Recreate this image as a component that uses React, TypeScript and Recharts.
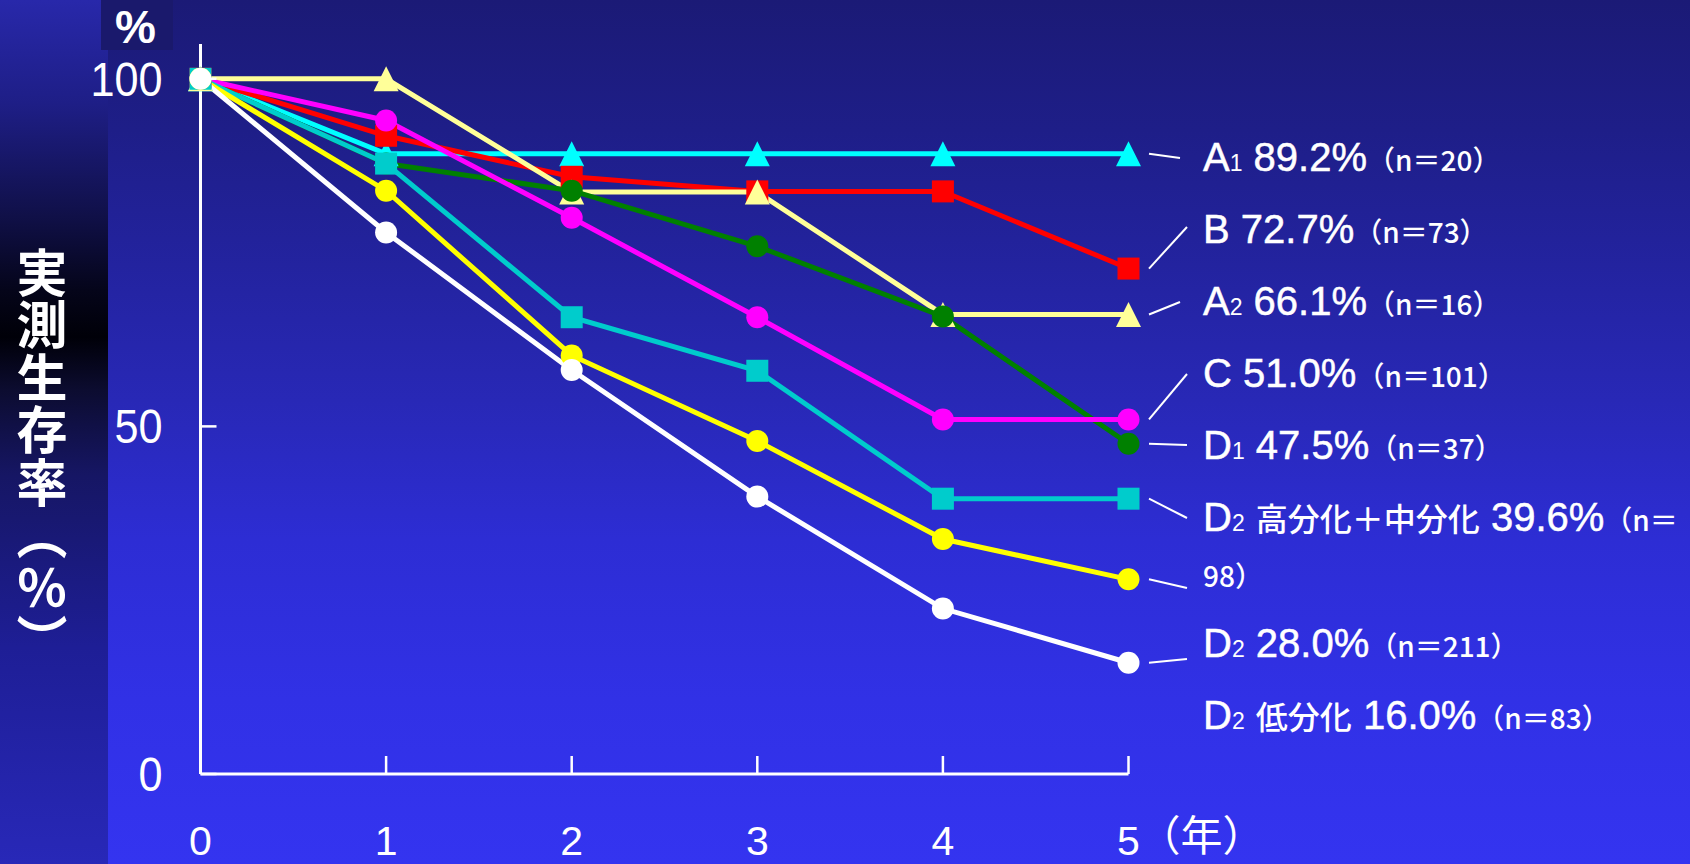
import React from 'react';
import { LineChart, Line, XAxis, YAxis, ReferenceLine } from 'recharts';

// Years after surgery
const YEARS = [0, 1, 2, 3, 4, 5];

// Observed survival (%) per group, years 0–5
const SURV_A1 = [100, 89.2, 89.2, 89.2, 89.2, 89.2];
const SURV_B = [100, 91.8, 85.9, 83.8, 83.8, 72.7];
const SURV_A2 = [100, 100, 83.7, 83.7, 66.1, 66.1];
const SURV_C = [100, 94.0, 80.0, 65.7, 51.0, 51.0];
const SURV_D1 = [100, 87.8, 83.9, 75.9, 65.8, 47.5];
const SURV_D2_WELL_MOD = [100, 87.8, 65.7, 58.0, 39.6, 39.6];
const SURV_D2 = [100, 83.9, 60.2, 47.9, 33.8, 28.0];
const SURV_D2_POOR = [100, 77.9, 58.1, 39.9, 23.8, 16.0];

const Y_TICKS = [0, 50, 100];

// Group label parts
const GROUP_NAMES = ['A', 'B', 'A', 'C', 'D', 'D', 'D', 'D'];
const GROUP_SUBS = ['1', '', '2', '', '1', '2', '2', '2'];
const GROUP_NOTES = ['', '', '', '', '', '高分化＋中分化', '', '低分化'];
const GROUP_N = [20, 73, 16, 101, 37, 98, 211, 83];

type Shape = 'circle' | 'square' | 'triangle';
const SERIES: { key: string; values: number[]; color: string; shape: Shape }[] = [
  { key: 'a1', values: SURV_A1, color: '#00ffff', shape: 'triangle' },
  { key: 'b', values: SURV_B, color: '#ff0000', shape: 'square' },
  { key: 'a2', values: SURV_A2, color: '#ffff99', shape: 'triangle' },
  { key: 'c', values: SURV_C, color: '#ff00ff', shape: 'circle' },
  { key: 'd1', values: SURV_D1, color: '#008000', shape: 'circle' },
  { key: 'd2wm', values: SURV_D2_WELL_MOD, color: '#00cccc', shape: 'square' },
  { key: 'd2', values: SURV_D2, color: '#ffff00', shape: 'circle' },
  { key: 'd2p', values: SURV_D2_POOR, color: '#ffffff', shape: 'circle' },
];
// stacking order of the curves (bottom to top)
const DRAW_ORDER = [0, 1, 2, 4, 3, 5, 6, 7];

const chartData = YEARS.map((year, i) => {
  const row: Record<string, number> = { year };
  SERIES.forEach((s) => {
    row[s.key] = s.values[i];
  });
  return row;
});

// chart geometry
const W = 1690;
const H = 864;
const PLOT = { left: 200.5, right: 1128.5, top: 44, bottom: 774 };
const AXIS_SIZE = 1;
const X_MAX = 5;
const Y_MAX = 105;
const xFromPx = (px: number) => ((px - PLOT.left) / (PLOT.right - PLOT.left)) * X_MAX;
const yFromPx = (py: number) => ((PLOT.bottom - py) / (PLOT.bottom - PLOT.top)) * Y_MAX;

// annotation layout
const LABEL_X = 1203;
const ROW_BASELINES = [171, 243, 315, 387, 459, 531, 657, 729];
const WRAP_BASELINE = 587;
const LEADER_START_X = 1149;
const LEADER_ENDS: [number, number][] = [
  [1180, 158],
  [1187, 227],
  [1180, 302],
  [1187, 374],
  [1187, 445],
  [1187, 518],
  [1187, 588],
  [1187, 659],
];

const LATIN = "'Liberation Sans', Arial, sans-serif";
const CJK = "'Noto Sans CJK JP', 'Noto Sans CJK SC', sans-serif";

const makeDot = (shape: Shape, color: string) => (props: any) => {
  const { cx, cy, index } = props;
  if (cx == null || cy == null) return <g key={`e${index}`} />;
  if (shape === 'circle') return <circle key={index} cx={cx} cy={cy} r={11} fill={color} />;
  if (shape === 'square')
    return <rect key={index} x={cx - 11} y={cy - 11} width={22} height={22} fill={color} />;
  return (
    <polygon
      key={index}
      points={`${cx},${cy - 12.5} ${cx + 12.5},${cy + 12.5} ${cx - 12.5},${cy + 12.5}`}
      fill={color}
    />
  );
};

const XTick = (props: any) => {
  const { x, y, payload } = props;
  return (
    <g>
      <line x1={x} y1={y} x2={x} y2={y - 18} stroke="#fff" strokeWidth={2.5} />
      <text x={x} y={y + 81} textAnchor="middle" fill="#fff" fontFamily={LATIN} fontSize={41}>
        {payload.value}
      </text>
      {payload.value === X_MAX && (
        <text x={x + 10} y={y + 77} fill="#fff" fontFamily={CJK} fontSize={42}>
          （年）
        </text>
      )}
    </g>
  );
};

const YTick = (props: any) => {
  const { x, y, payload } = props;
  return (
    <g>
      <line x1={x} y1={y} x2={x + 16} y2={y} stroke="#fff" strokeWidth={2.5} />
      <text
        transform={`translate(${x - 38},${y + 17}) scale(0.9,1)`}
        textAnchor="end"
        fill="#fff"
        fontFamily={LATIN}
        fontSize={48}
      >
        {payload.value}
      </text>
    </g>
  );
};

function GroupLabel({ i, y }: { i: number; y: number }) {
  const rate = `${SERIES[i].values[YEARS.length - 1].toFixed(1)}%`;
  const wraps = GROUP_NOTES[i].length > 3;
  return (
    <g>
      <text x={LABEL_X} y={y} fill="#fff">
        <tspan fontFamily={LATIN} fontSize={40} stroke="#fff" strokeWidth={0.5}>
          {GROUP_NAMES[i]}
        </tspan>
        {GROUP_SUBS[i] && (
          <tspan fontFamily={LATIN} fontSize={23}>
            {GROUP_SUBS[i]}
          </tspan>
        )}
        {GROUP_NOTES[i] && (
          <>
            <tspan fontFamily={LATIN} fontSize={40}>
              {' '}
            </tspan>
            <tspan fontFamily={CJK} fontSize={32} fontWeight={500}>
              {GROUP_NOTES[i]}
            </tspan>
          </>
        )}
        <tspan fontFamily={LATIN} fontSize={40} stroke="#fff" strokeWidth={0.5}>
          {' ' + rate}
        </tspan>
        <tspan fontFamily={CJK} fontSize={28} fontWeight={500}>
          {wraps ? '（n＝' : `（n＝${GROUP_N[i]}）`}
        </tspan>
      </text>
      {wraps && (
        <text x={LABEL_X} y={WRAP_BASELINE} fill="#fff" fontFamily={CJK} fontSize={28} fontWeight={500}>
          {`${GROUP_N[i]}）`}
        </text>
      )}
    </g>
  );
}

export default function App() {
  return (
    <div style={{ position: 'absolute', left: 0, top: 0, width: W, height: H, overflow: 'hidden' }}>
      {/* backdrop */}
      <div
        style={{
          position: 'absolute',
          inset: 0,
          background:
            'linear-gradient(to bottom, #1b1a76 0px, #1e1e88 130px, #2828b6 400px, #2d2dd4 540px, #3131e6 700px, #3434f0 864px)',
        }}
      />
      <div
        style={{
          position: 'absolute',
          left: 0,
          top: 0,
          width: 108,
          height: H,
          background:
            'linear-gradient(to bottom, #2828aa 0px, #1e1e86 104px, #101048 216px, #05051a 290px, #000008 337px, #0c0c30 390px, #161664 475px, #1e1e96 648px, #2828b8 864px)',
        }}
      />
      <div style={{ position: 'absolute', left: 101, top: 0, width: 72, height: 50, background: '#1a196c' }} />

      {/* y-axis title */}
      <div
        style={{
          position: 'absolute',
          left: 16,
          top: 247,
          writingMode: 'vertical-rl',
          fontFamily: CJK,
          fontSize: 51,
          fontWeight: 700,
          lineHeight: '51px',
          letterSpacing: '1.5px',
          color: '#fff',
          whiteSpace: 'nowrap',
        }}
      >
        実測生存率（％）
      </div>

      <div style={{ position: 'absolute', left: 0, top: 0 }}>
        <LineChart
          width={W}
          height={H}
          data={chartData}
          margin={{
            top: PLOT.top,
            right: W - PLOT.right,
            bottom: H - PLOT.bottom - AXIS_SIZE,
            left: PLOT.left - AXIS_SIZE,
          }}
        >
          <XAxis
            type="number"
            dataKey="year"
            domain={[0, X_MAX]}
            ticks={YEARS}
            interval={0}
            height={AXIS_SIZE}
            tickSize={0}
            tickMargin={0}
            tickLine={false}
            axisLine={{ stroke: '#fff', strokeWidth: 3 }}
            tick={(p: any) => <XTick {...p} />}
          />
          <YAxis
            type="number"
            domain={[0, Y_MAX]}
            ticks={Y_TICKS}
            interval={0}
            width={AXIS_SIZE}
            tickSize={0}
            tickMargin={0}
            tickLine={false}
            axisLine={{ stroke: '#fff', strokeWidth: 3 }}
            tick={(p: any) => <YTick {...p} />}
          />
          {SERIES.map((s, i) => (
            <ReferenceLine
              key={`leader-${s.key}`}
              ifOverflow="visible"
              stroke="#fff"
              strokeWidth={2}
              segment={[
                { x: xFromPx(LEADER_START_X), y: s.values[YEARS.length - 1] },
                { x: xFromPx(LEADER_ENDS[i][0]), y: yFromPx(LEADER_ENDS[i][1]) },
              ]}
            />
          ))}
          {DRAW_ORDER.map((idx) => {
            const s = SERIES[idx];
            return (
              <Line
                key={s.key}
                type="linear"
                dataKey={s.key}
                stroke={s.color}
                strokeWidth={5}
                dot={makeDot(s.shape, s.color)}
                activeDot={false}
                isAnimationActive={false}
              />
            );
          })}
        </LineChart>
      </div>

      {/* unit mark and group labels */}
      <svg
        width={W}
        height={H}
        style={{ position: 'absolute', left: 0, top: 0, pointerEvents: 'none' }}
      >
        <text x={115} y={43} fill="#fff" fontFamily={LATIN} fontSize={46} fontWeight={700}>
          %
        </text>
        {SERIES.map((_, i) => (
          <GroupLabel key={i} i={i} y={ROW_BASELINES[i]} />
        ))}
      </svg>
    </div>
  );
}
